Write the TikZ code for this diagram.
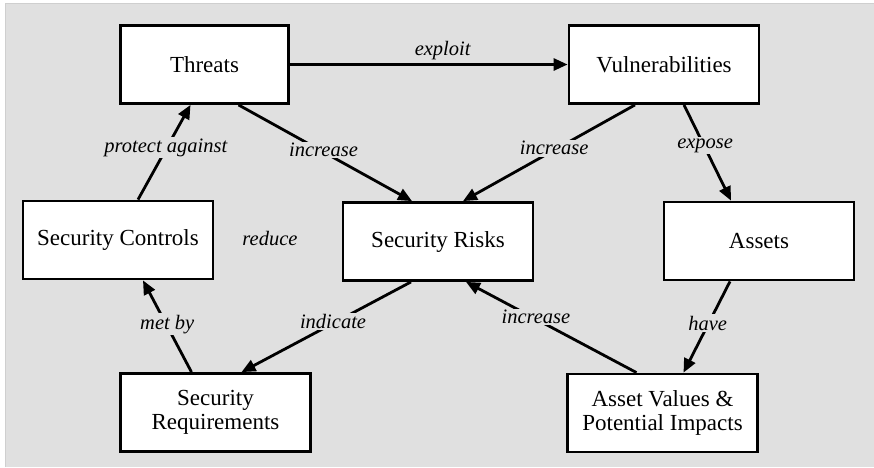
\documentclass[tikz,border=0pt]{standalone}
\usepackage{fontspec}
\setmainfont{Liberation Serif}
\usetikzlibrary{arrows.meta}
\definecolor{bg}{HTML}{E0E0E0}
\definecolor{bgline}{HTML}{CFCFCF}
\begin{document}
\begin{tikzpicture}[x=1pt,y=-1pt,
  box/.style={draw=black,fill=white,line width=2.8pt,minimum width=190pt,minimum height=78pt,
    align=center,inner sep=2pt,font=\fontsize{23}{24}\selectfont},
  conn/.style={line width=2.8pt,-{Triangle[length=14pt,width=12pt]}},
  lbl/.style={fill=bg,inner sep=1.5pt,yshift=2pt,font=\fontsize{20.5}{22}\selectfont\itshape}]
\useasboundingbox (0,0) rectangle (874,467);
\fill[bg] (5,3) rectangle (874,467);
\draw[bgline,line width=0.8pt] (5,467) -- (5,3) -- (874,3);

\node[box,minimum width=168pt] (thr) at (204.5,64.5) {Threats};
\node[box] (vul) at (664,64.5) {Vulnerabilities};
\node[box] (ctl) at (118,240) {Security Controls};
\node[box] (risk) at (438,241.5) {Security Risks};
\node[box] (ast) at (759,241) {Assets};
\node[box] (req) at (215.5,412.5) {Security\\Requirements};
\node[box] (av) at (662.5,413) {Asset Values \&\\Potential Impacts};

\draw[conn] (thr.east) -- node[pos=0.55,above=2pt,font=\fontsize{20.5}{22}\selectfont\itshape,inner sep=1pt] (lexp) {exploit} (vul.west);
\draw[conn] ([xshift=34pt]thr.south) -- node[lbl,pos=0.49] (linc1) {increase} ([xshift=-26pt]risk.north);
\draw[conn] ([xshift=-29pt]vul.south) -- node[lbl,pos=0.47] (linc2) {increase} ([xshift=25pt]risk.north);
\draw[conn] ([xshift=20pt]vul.south) -- node[lbl,pos=0.45] (lexpo) {expose} ([xshift=-28pt]ast.north);
\draw[conn] ([xshift=20pt]ctl.north) -- node[lbl,pos=0.53] (lprot) {protect against} ([xshift=-14pt]thr.south);
\draw[conn] ([xshift=-24pt]req.north) -- node[lbl,pos=0.5] (lmet) {met by} ([xshift=25pt]ctl.south);
\draw[conn] ([xshift=-27pt]risk.south) -- node[lbl,pos=0.46] (lind) {indicate} ([xshift=26pt]req.north);
\draw[conn] ([xshift=-26pt]av.north) -- node[lbl,pos=0.59] (linc3) {increase} ([xshift=28pt]risk.south);
\draw[conn] ([xshift=-29pt]ast.south) -- node[lbl,pos=0.48] (lhave) {have} ([xshift=21pt]av.north);

\node[lbl] (lred) at (270,240) {reduce};
\end{tikzpicture}
\end{document}
